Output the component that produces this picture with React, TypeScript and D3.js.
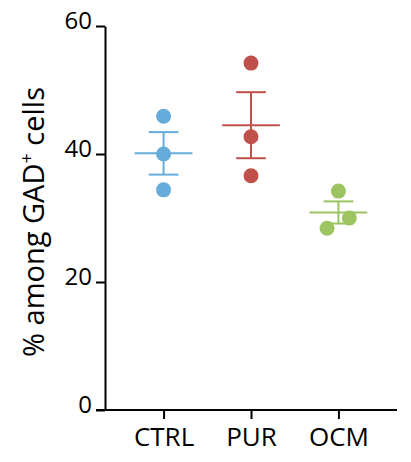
import React, { useEffect, useRef } from 'react'
import * as d3 from 'd3'

const groups = ['CTRL', 'PUR', 'OCM']
const colors = ['#66acdb', '#c0514a', '#9cc461']
const values = [
  [45.9, 40.0, 34.4],
  [54.2, 42.7, 36.6],
  [34.2, 30.0, 28.4],
]
// horizontal scatter, as a fraction of the category step
const jitter = [
  [0, 0, 0],
  [0, 0, 0],
  [0, 0.125, -0.13],
]
const yTicks = [0, 20, 40, 60]
const yLabel = '% among GAD'

const W = 411
const H = 462

const App = () => {
  const svgRef = useRef<SVGSVGElement>(null)

  useEffect(() => {
    const svg = d3.select(svgRef.current)
    svg.selectAll('*').remove()

    const left = 105
    const right = 397
    const y = d3.scaleLinear().domain([0, 60]).range([410, 26])
    const x = d3.scalePoint<string>().domain(groups).range([left, right]).padding(0.67)
    const step = x.step()
    const font = 'Open Sans, sans-serif'

    // axes
    const yAxis = d3.axisLeft(y).tickValues(yTicks).tickSize(9).tickSizeOuter(0).tickPadding(4)
    const gy = svg.append('g').attr('transform', `translate(${left},0)`).call(yAxis)
    gy.select('.domain').attr('stroke', '#000').attr('stroke-width', 2)
    gy.selectAll('.tick line').attr('stroke', '#000').attr('stroke-width', 2)
    gy.selectAll('.tick text')
      .attr('font-family', font)
      .attr('font-size', 24)
      .attr('fill', '#000')
      .attr('dy', '0.12em')

    const xAxis = d3.axisBottom(x).tickSize(9).tickSizeOuter(0).tickPadding(8)
    const gx = svg.append('g').attr('transform', `translate(0,${y(0)})`).call(xAxis)
    gx.select('.domain').attr('stroke', '#000').attr('stroke-width', 2).attr('d', `M${left - 9},0H${right}`)
    gx.selectAll('.tick line').attr('stroke', '#000').attr('stroke-width', 2)
    gx.selectAll('.tick text')
      .attr('font-family', font)
      .attr('font-size', 26)
      .attr('fill', '#000')
      .attr('dy', '0.74em')

    // y label
    const lbl = svg
      .append('text')
      .attr('transform', `translate(44,${222}) rotate(-90)`)
      .attr('text-anchor', 'middle')
      .attr('font-family', font)
      .attr('font-size', 29)
      .attr('fill', '#000')
    lbl.append('tspan').text(yLabel)
    lbl.append('tspan').attr('font-size', 18).attr('dy', -11).text('+')
    lbl.append('tspan').attr('dy', 11).text(' cells')

    // groups
    groups.forEach((g, i) => {
      const cx = x(g) as number
      const vals = values[i]
      const mean = d3.mean(vals) as number
      const sem = (d3.deviation(vals) as number) / Math.sqrt(vals.length)
      const col = colors[i]
      const grp = svg.append('g').attr('stroke', col).attr('stroke-width', 2)

      grp.append('line')
        .attr('x1', cx).attr('x2', cx)
        .attr('y1', y(mean + sem)).attr('y2', y(mean - sem))
      grp.append('line')
        .attr('x1', cx - step * 0.33).attr('x2', cx + step * 0.33)
        .attr('y1', y(mean)).attr('y2', y(mean))
      ;[mean + sem, mean - sem].forEach(v => {
        grp.append('line')
          .attr('x1', cx - step * 0.17).attr('x2', cx + step * 0.17)
          .attr('y1', y(v)).attr('y2', y(v))
      })

      svg.append('g')
        .selectAll('circle')
        .data(vals)
        .enter()
        .append('circle')
        .attr('cx', (d, j) => cx + jitter[i][j] * step)
        .attr('cy', d => y(d))
        .attr('r', 7.5)
        .attr('fill', col)
    })
  }, [])

  return (
    <svg ref={svgRef} width={W} height={H} style={{ position: 'absolute', left: 0, top: 0 }} />
  )
}

export default App
